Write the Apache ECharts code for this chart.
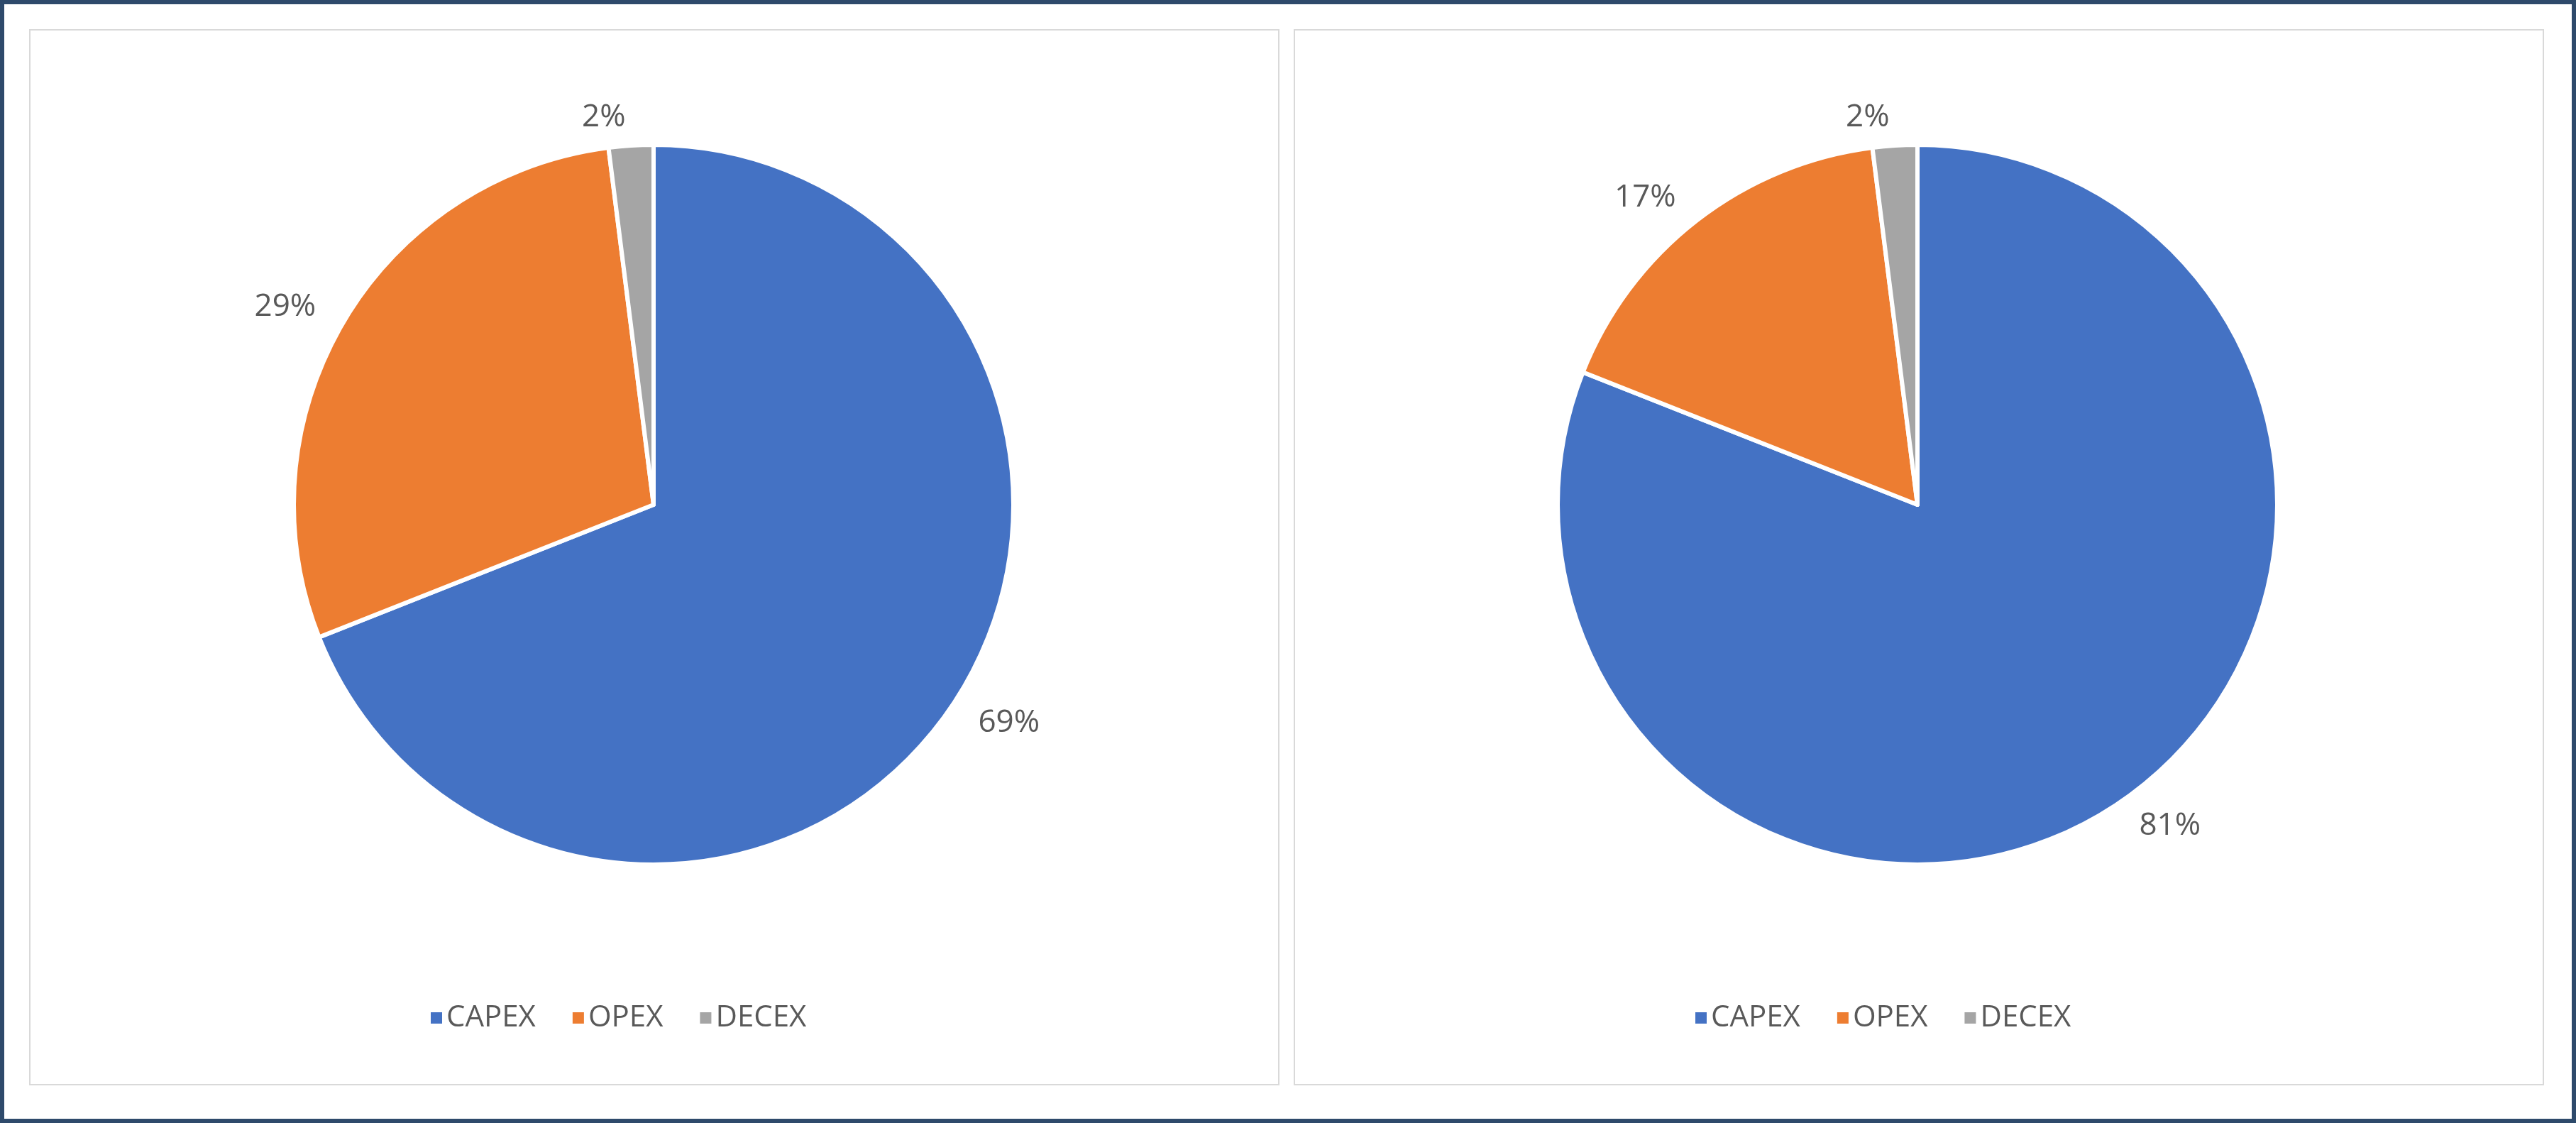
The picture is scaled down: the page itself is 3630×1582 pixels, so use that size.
<!DOCTYPE html>
<html>
<head>
<meta charset="utf-8">
<script src="https://cdn.jsdelivr.net/npm/echarts@6/dist/echarts.min.js"></script>
<style>html,body{margin:0;padding:0;background:#fff}#main{width:3630px;height:1582px}</style>
</head>
<body>
<div id="main"></div>
<script>
var categories = ['CAPEX', 'OPEX', 'DECEX'];
var leftValues = [69, 29, 2];
var rightValues = [81, 17, 2];
var colors = ['#4472C4', '#ED7D31', '#A5A5A5'];

var myChart = echarts.init(document.getElementById('main'));

function toData(vals) {
  return categories.map(function (c, i) { return { name: c, value: vals[i] }; });
}
function pieSeries(vals, cx) {
  return {
    type: 'pie',
    radius: 507,
    center: [cx, 711],
    startAngle: 90,
    clockwise: true,
    data: toData(vals),
    itemStyle: { borderColor: '#fff', borderWidth: 6 },
    label: { show: true, position: 'outside', formatter: '{d}%', color: '#595959', fontSize: 44, fontFamily: 'Open Sans' },
    labelLine: { show: false, length: 40, length2: 0 },
    emphasis: { scale: false }
  };
}
function legendAt(left) {
  return {
    data: categories, left: left, top: 1408, icon: 'rect', itemWidth: 18, itemHeight: 18, itemGap: 50,
    textStyle: { color: '#595959', fontSize: 42, fontFamily: 'Open Sans' }
  };
}

var option = {
  color: colors,
  legend: [legendAt(600), legendAt(2382)],
  graphic: [
    { type: 'rect', shape: { x: 3, y: 3, width: 3624, height: 1576 }, style: { fill: 'none', stroke: '#2E4A6B', lineWidth: 6 } },
    { type: 'rect', shape: { x: 42, y: 42, width: 1760, height: 1486 }, style: { fill: 'none', stroke: '#D9D9D9', lineWidth: 2 } },
    { type: 'rect', shape: { x: 1824, y: 42, width: 1760, height: 1486 }, style: { fill: 'none', stroke: '#D9D9D9', lineWidth: 2 } }
  ],
  series: [pieSeries(leftValues, 921), pieSeries(rightValues, 2702)]
};
myChart.setOption(option);
window.addEventListener('resize', function () { myChart.resize(); });
</script>
</body>
</html>
